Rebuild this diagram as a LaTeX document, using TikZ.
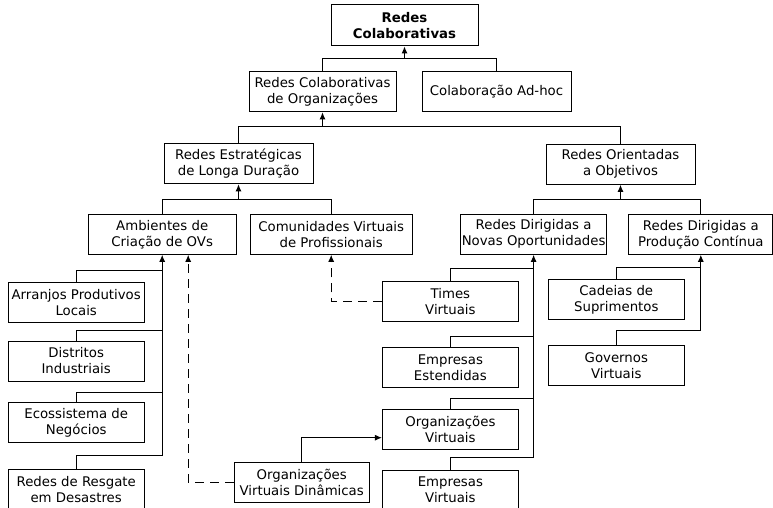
\documentclass[tikz,border=0pt]{standalone}
\usepackage{fontspec}
\setmainfont{DejaVu Sans}
\usetikzlibrary{arrows.meta}
\begin{document}
\begin{tikzpicture}[x=1pt,y=-1pt,
  box/.style={draw,line width=1pt,minimum height=40pt,inner sep=0pt,align=center,
    font=\fontsize{13.3}{16}\selectfont},
  link/.style={line width=1pt},
  up/.style={link,-{Latex[length=7pt,width=6pt]}},
  dash link/.style={up,dash pattern=on 9pt off 6pt}]
\clip (0,0) rectangle (773,508);
\fill[white] (0,0) rectangle (773,508);

% hierarchy levels
\node[box,minimum width=147pt,minimum height=41pt,font=\fontsize{13.3}{16}\selectfont\bfseries] (top) at (404.5,25.5) {Redes\\Colaborativas};
\node[box,minimum width=147pt] (rco) at (322.5,91.8) {Redes Colaborativas\\de Organizações};
\node[box,minimum width=149pt] (adhoc) at (496.5,92) {Colaboração Ad-hoc};
\node[box,minimum width=149pt] (rel) at (238.5,163.8) {Redes Estratégicas\\de Longa Duração};
\node[box,minimum width=149pt] (roo) at (620.5,164.3) {Redes Orientadas\\a Objetivos};
\node[box,minimum width=148pt] (amb) at (162.2,234.3) {Ambientes de\\Criação de OVs};
\node[box,minimum width=162pt] (com) at (331.2,234.3) {Comunidades Virtuais\\de Profissionais};
\node[box,minimum width=146pt] (novas) at (533.6,234.3) {Redes Dirigidas a\\Novas Oportunidades};
\node[box,minimum width=144pt] (prod) at (700.8,234.3) {Redes Dirigidas a\\Produção Contínua};

% left column
\node[box,minimum width=136pt] (arr) at (76.2,302.3) {Arranjos Produtivos\\Locais};
\node[box,minimum width=136pt] (dis) at (76.2,361) {Distritos\\Industriais};
\node[box,minimum width=136pt] (eco) at (76.2,422.5) {Ecossistema de\\Negócios};
\node[box,minimum width=136pt] (res) at (76.2,489.5) {Redes de Resgate\\em Desastres};

% middle column
\node[box,minimum width=136pt] (tim) at (450.4,301.7) {Times\\Virtuais};
\node[box,minimum width=136pt] (emp) at (450.4,367.5) {Empresas\\Estendidas};
\node[box,minimum width=136pt] (orv) at (450.4,429) {Organizações\\Virtuais};
\node[box,minimum width=136pt] (emv) at (450.4,490) {Empresas\\Virtuais};
\node[box,minimum width=135pt] (ovd) at (301.7,482.3) {Organizações\\Virtuais Dinâmicas};

% right column
\node[box,minimum width=136pt] (cad) at (616.3,299.7) {Cadeias de\\Suprimentos};
\node[box,minimum width=136pt] (gov) at (616.3,365.7) {Governos\\Virtuais};

% tree connectors
\draw[link] (rco.north) |- (adhoc.north |- 0,58.3) -- (adhoc.north);
\draw[up] (top.south |- 0,58.3) -- (top.south);
\draw[link] (rel.north) |- (roo.north |- 0,127) -- (roo.north);
\draw[up] (rco.south |- 0,127) -- (rco.south);
\draw[link] (amb.north) |- (com.north |- 0,199.3) -- (com.north);
\draw[up] (rel.south |- 0,199.3) -- (rel.south);
\draw[link] (novas.north) |- (prod.north |- 0,199.3) -- (prod.north);
\draw[up] (roo.south |- 0,199.3) -- (roo.south);

\foreach \n/\y in {arr/270,dis/330.7,eco/392.7,res/455.7}
  \draw[link] (\n.north) |- (amb.south |- 0,\y);
\draw[up] (amb.south |- 0,455.7) -- (amb.south);

\foreach \n/\y in {tim/268.3,emp/336,orv/398.3,emv/457.3}
  \draw[link] (\n.north) |- (novas.south |- 0,\y);
\draw[up] (novas.south |- 0,457.3) -- (novas.south);

\foreach \n/\y in {cad/267.3,gov/330}
  \draw[link] (\n.north) |- (prod.south |- 0,\y);
\draw[up] (prod.south |- 0,330) -- (prod.south);

% cross links
\draw[dash link] (ovd.west) -| ([xshift=26pt]amb.south);
\draw[dash link] (tim.west) -| (com.south);
\draw[up] (ovd.north) |- ([yshift=-8.7pt]orv.west);
\end{tikzpicture}
\end{document}
